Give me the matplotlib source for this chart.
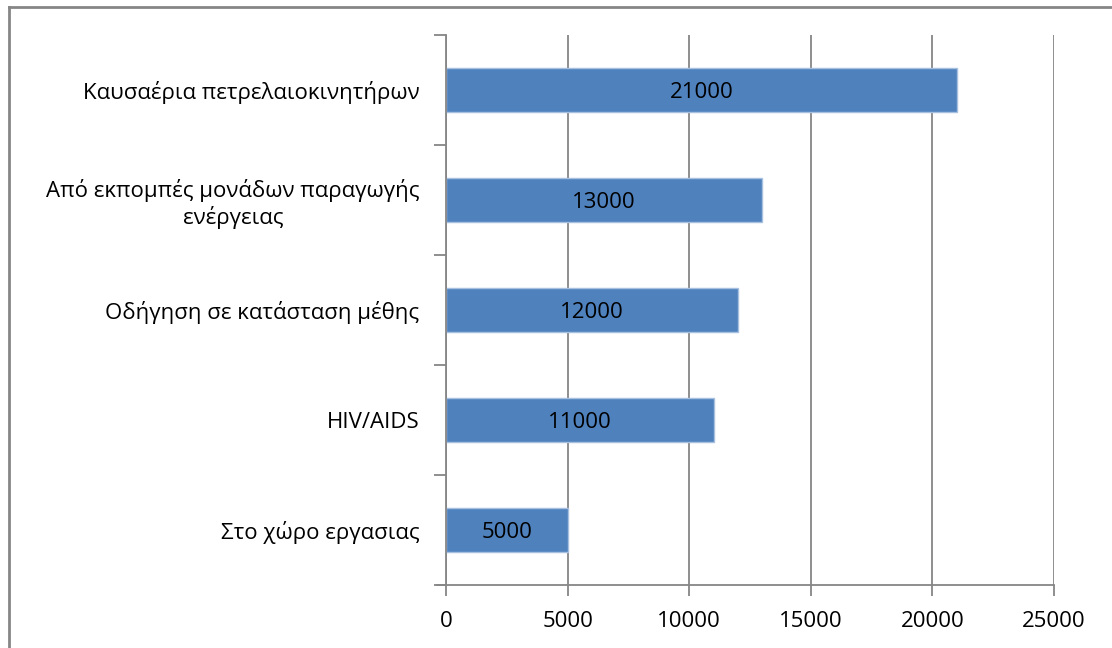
import matplotlib.pyplot as plt
from matplotlib.lines import Line2D
from matplotlib.ticker import FixedLocator

categories = ["Καυσαέρια πετρελαιοκινητήρων",
              "Από εκπομπές μονάδων παραγωγής\nενέργειας",
              "Οδήγηση σε κατάσταση μέθης",
              "HIV/AIDS",
              "Στο χώρο εργασιας"]
values = [21000, 13000, 12000, 11000, 5000]
xticks = [0, 5000, 10000, 15000, 20000, 25000]

plt.rcParams['font.family'] = ['Open Sans', 'DejaVu Sans']
grey = '#868686'

fig = plt.figure(figsize=(11.12, 6.48), dpi=100)
ax = fig.add_axes([446 / 1112, 1 - 585 / 648, 608 / 1112, 550 / 648])

# bars from top to bottom
ypos = list(range(len(categories)))[::-1]
ax.barh(ypos, values, height=0.4, color='#4F81BD', edgecolor='#A7C0E0', linewidth=1, zorder=3)
for y, v in zip(ypos, values):
    ax.text(v / 2, y - 0.02, str(v), ha='center', va='center', fontsize=16, color='black', zorder=4)

ax.set_xlim(0, 25000)
ax.set_ylim(-0.5, len(categories) - 0.5)
ax.set_xticks(xticks)
ax.set_xticklabels([str(t) for t in xticks], fontsize=16)
ax.set_yticks(ypos)
ax.set_yticklabels(categories, fontsize=16, ha='right', multialignment='center')
ax.yaxis.set_minor_locator(FixedLocator([i - 0.5 for i in range(len(categories) + 1)]))
ax.tick_params(axis='y', which='major', length=0, pad=19)
ax.tick_params(axis='y', which='minor', length=9, width=1.3, color=grey)
ax.tick_params(axis='x', which='major', length=8, width=1.3, color=grey, pad=11)

ax.grid(axis='x', color=grey, linewidth=1.3, zorder=0)
for s in ['top', 'right']:
    ax.spines[s].set_visible(False)
for s in ['left', 'bottom']:
    ax.spines[s].set_color(grey)
    ax.spines[s].set_linewidth(1.3)
    ax.spines[s].set_zorder(5)
ax.spines['bottom'].set_bounds(-370, 25000)

# chart frame
fig.add_artist(Line2D([8.5 / 1112, 8.5 / 1112], [0, 1 - 6.5 / 648], color=grey, lw=2, transform=fig.transFigure))
fig.add_artist(Line2D([8.5 / 1112, 1], [1 - 6.5 / 648, 1 - 6.5 / 648], color=grey, lw=2, transform=fig.transFigure))

fig.savefig('out.png', dpi=100)
